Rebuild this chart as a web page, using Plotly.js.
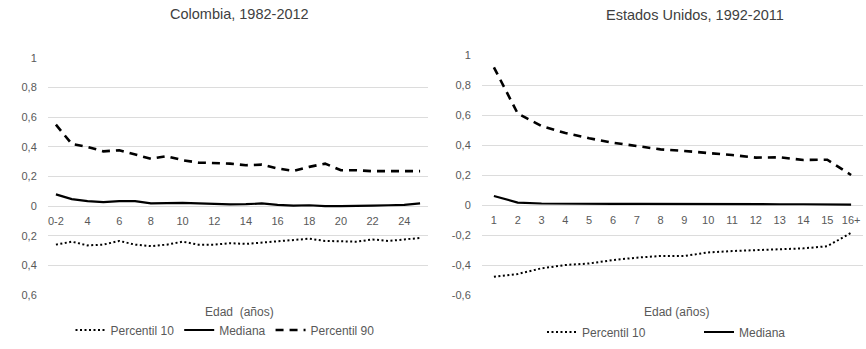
<!DOCTYPE html>
<html>
<head>
<meta charset="utf-8">
<script src="https://cdn.plot.ly/plotly-3.0.1.min.js"></script>
<style>html,body{margin:0;padding:0;background:#fff;}#chart{width:866px;height:349px;}</style>
</head>
<body>
<div id="chart"></div>
<script>
// ---- Data ----
const colCategories = ['0-2','3','4','5','6','7','8','9','10','11','12','13','14','15','16','17','18','19','20','21','22','23','24','25'];
const colP10    = [-0.26,-0.24,-0.265,-0.26,-0.235,-0.26,-0.27,-0.26,-0.24,-0.26,-0.26,-0.25,-0.255,-0.245,-0.235,-0.23,-0.22,-0.235,-0.24,-0.24,-0.225,-0.235,-0.225,-0.215];
const colMedian = [0.079,0.047,0.034,0.027,0.034,0.034,0.018,0.022,0.022,0.018,0.013,0.012,0.013,0.018,0.009,0.004,0.006,0.0,0.0,0.0,0.004,0.006,0.009,0.018];
const colP90    = [0.55,0.42,0.40,0.37,0.377,0.35,0.32,0.337,0.31,0.294,0.29,0.287,0.276,0.28,0.254,0.238,0.265,0.287,0.242,0.242,0.236,0.236,0.236,0.236];
const colTickLabels = ['0-2','4','6','8','10','12','14','16','18','20','22','24'];
const colYTickVals = [1,0.8,0.6,0.4,0.2,0,-0.2,-0.4,-0.6];
const colYTickText = ['1','0,8','0,6','0,4','0,2','0','0,2','0,4','0,6'];

const usCategories = ['1','2','3','4','5','6','7','8','9','10','11','12','13','14','15','16+'];
const usP10    = [-0.478,-0.46,-0.422,-0.40,-0.39,-0.367,-0.351,-0.34,-0.34,-0.316,-0.307,-0.30,-0.293,-0.289,-0.275,-0.185];
const usMedian = [0.06,0.016,0.01,0.008,0.008,0.008,0.007,0.006,0.006,0.006,0.005,0.005,0.005,0.005,0.006,0.002];
const usP90    = [0.918,0.61,0.527,0.48,0.445,0.415,0.393,0.371,0.36,0.349,0.333,0.316,0.318,0.30,0.302,0.2];
const usTickLabels = usCategories;
const usYTickVals = [1,0.8,0.6,0.4,0.2,0,-0.2,-0.4,-0.6];
const usYTickText = ['1','0,8','0,6','0,4','0,2','0','-0,2','-0,4','-0,6'];

const titles = ['Colombia, 1982-2012','Estados Unidos, 1992-2011'];
const xTitle = 'Edad&nbsp;&nbsp;(años)';
const xTitle2 = 'Edad (años)';
const seriesNames = ['Percentil 10','Mediana','Percentil 90'];

// ---- Layout helpers (pixel -> paper) ----
const W = 866, H = 349;
const px = v => v / W;
const py = v => 1 - v / H;
const textColor = '#595959';
const gridColor = '#dcdcdc';
const FONT = 'Liberation Sans, Arial, sans-serif';

function yZeroFrac(top, bottom){ // pixel rows of y=1 and y=-0.6
  const zeroPx = top + (bottom - top) * (1 / 1.6);
  return py(zeroPx);
}

const L = {top:58, bottom:295, left:48, right:428};
const R = {top:55, bottom:295, left:482, right:863};

const traces = [
  {x: colCategories, y: colP10, name: seriesNames[0], type:'scatter', mode:'lines', xaxis:'x', yaxis:'y', legend:'legend',
   line:{color:'#000', width:2, dash:'2px,2.5px'}},
  {x: colCategories, y: colMedian, name: seriesNames[1], type:'scatter', mode:'lines', xaxis:'x', yaxis:'y', legend:'legend',
   line:{color:'#000', width:2.2}},
  {x: colCategories, y: colP90, name: seriesNames[2], type:'scatter', mode:'lines', xaxis:'x', yaxis:'y', legend:'legend',
   line:{color:'#000', width:2.6, dash:'8px,6px'}},
  {x: usCategories, y: usP10, name: seriesNames[0], type:'scatter', mode:'lines', xaxis:'x2', yaxis:'y2', legend:'legend2',
   line:{color:'#000', width:2, dash:'2px,2.5px'}},
  {x: usCategories, y: usMedian, name: seriesNames[1], type:'scatter', mode:'lines', xaxis:'x2', yaxis:'y2', legend:'legend2',
   line:{color:'#000', width:2.2}},
  {x: usCategories, y: usP90, name: seriesNames[2], type:'scatter', mode:'lines', xaxis:'x2', yaxis:'y2', legend:'legend2', showlegend:false,
   line:{color:'#000', width:2.6, dash:'8px,6px'}}
];

function xAxis(domain, zeroFrac, n, tickvals){
  return {
    type:'category', domain: domain, anchor:'free',
    position: zeroFrac, range:[-0.5, n - 0.5],
    showgrid:false, zeroline:false, showline:false,
    tickmode:'array', tickvals: tickvals, ticktext: tickvals,
    ticks:'outside', ticklen:5, tickcolor:'rgba(0,0,0,0)',
    tickfont:{family:FONT, size:11, color:textColor},
    fixedrange:true
  };
}
function yAxis(domain, anchor, tickvals, ticktext){
  return {
    domain: domain, anchor: anchor, range:[-0.6, 1],
    showgrid:true, gridcolor:gridColor, gridwidth:1,
    zeroline:false, showline:false,
    tickmode:'array', tickvals: tickvals, ticktext: ticktext,
    ticks:'outside', ticklen:8, tickcolor:'rgba(0,0,0,0)',
    tickfont:{family:FONT, size:11, color:textColor},
    fixedrange:true
  };
}

const layout = {
  width: W, height: H,
  margin:{l:0, r:0, t:0, b:0, autoexpand:false},
  paper_bgcolor:'#fff', plot_bgcolor:'#fff',
  font:{family:FONT, color:textColor},
  showlegend:true,
  xaxis: xAxis([px(L.left), px(L.right)], yZeroFrac(L.top, L.bottom), colCategories.length, colTickLabels),
  yaxis: yAxis([py(L.bottom), py(L.top)], 'x', colYTickVals, colYTickText),
  xaxis2: xAxis([px(R.left), px(R.right)], yZeroFrac(R.top, R.bottom), usCategories.length, usTickLabels),
  yaxis2: yAxis([py(R.bottom), py(R.top)], 'x2', usYTickVals, usYTickText),
  legend:{orientation:'h', x: px(225), xanchor:'center', y: py(330), yanchor:'middle',
          font:{family:FONT, size:12, color:textColor}, itemwidth:30, tracegroupgap:0, bgcolor:'rgba(0,0,0,0)'},
  legend2:{orientation:'h', x: px(542), xanchor:'left', y: py(332), yanchor:'middle', entrywidth:112,
          font:{family:FONT, size:12, color:textColor}, itemwidth:30, tracegroupgap:0, bgcolor:'rgba(0,0,0,0)'},
  annotations:[
    {text: titles[0], xref:'paper', yref:'paper', x: px(240), y: py(14), xanchor:'center', yanchor:'middle', showarrow:false,
     font:{family:FONT, size:14.5, color:'#404040'}},
    {text: titles[1], xref:'paper', yref:'paper', x: px(695), y: py(15), xanchor:'center', yanchor:'middle', showarrow:false,
     font:{family:FONT, size:14.5, color:'#404040'}},
    {text: xTitle, xref:'paper', yref:'paper', x: px(240), y: py(312), xanchor:'center', yanchor:'middle', showarrow:false,
     font:{family:FONT, size:12, color:textColor}},
    {text: xTitle2, xref:'paper', yref:'paper', x: px(676), y: py(312), xanchor:'center', yanchor:'middle', showarrow:false,
     font:{family:FONT, size:12, color:textColor}}
  ]
};

Plotly.newPlot('chart', traces, layout, {displayModeBar:false, staticPlot:true});
</script>
</body>
</html>
